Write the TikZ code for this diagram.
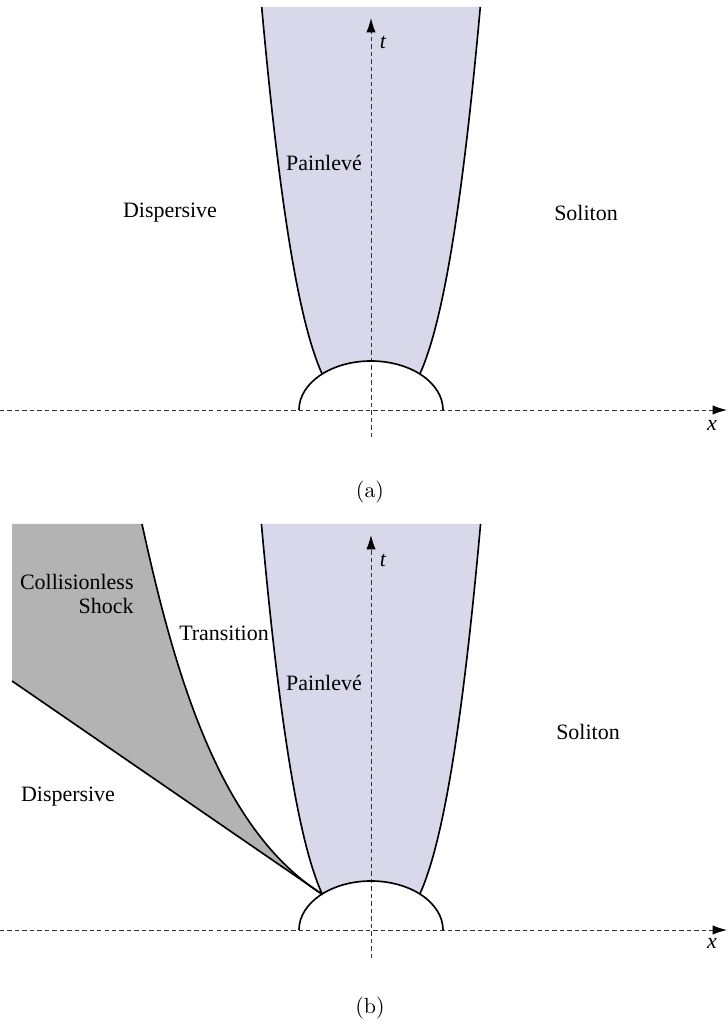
\documentclass[tikz,border=0pt]{standalone}
\usepackage{fontspec}
\newfontfamily\lblfont{Liberation Serif}
\usepackage{tikz}
\usetikzlibrary{arrows.meta}
\definecolor{lavender}{RGB}{216,216,234}
\definecolor{shockgray}{RGB}{179,179,179}

\begin{document}
\begin{tikzpicture}[x=0.016cm,y=0.016cm,
          axis/.style={black!80,line width=0.45pt,dash pattern=on 2pt off 1.4pt},
          axtip/.style={-{Latex[length=6.5pt,width=4.2pt,color=black]}},
          bdry/.style={line width=0.75pt},
          lbl/.style={font=\lblfont\fontsize{10}{11}\selectfont,inner sep=0pt},
          subcap/.style={font=\normalfont,inner sep=0pt}]
  \useasboundingbox (0,0) rectangle (728,1025);

  % (a) no shock
  \begin{scope}[shift={(371,615)}]
    \coordinate (meetLA) at (132.9:72 and 49);
    \coordinate (meetRA) at (47.1:72 and 49);
    \fill[lavender] (meetRA)
      -- plot[domain=35.9:403,variable=\t,samples=80] ({14.8*\t^(1/3)},{\t})
      -- plot[domain=403:35.9,variable=\t,samples=80] ({-14.8*\t^(1/3)},{\t})
      arc[start angle=132.9,end angle=47.1,x radius=72,y radius=49] -- cycle;
    \coordinate (xa0) at (-371,0);
    \coordinate (xa1) at (356,0);
    \coordinate (ta0) at (0,-27);
    \coordinate (ta1) at (0,392);
    \draw[axis,axtip] (xa0) -- (xa1);
    \draw[axis,axtip] (ta0) -- (ta1);
    \draw[bdry] plot[domain=35.9:403,variable=\t,samples=80] ({14.8*\t^(1/3)},{\t});
    \draw[bdry] plot[domain=35.9:403,variable=\t,samples=80] ({-14.8*\t^(1/3)},{\t});
    \draw[bdry] (72,0) arc[start angle=0,end angle=180,x radius=72,y radius=49];
    \node[lbl] (tlblA) at (12,368) {\itshape t};
    \node[lbl] (xlblA) at (341,-15) {\itshape x};
    \node[lbl] (painA) at (-47,247) {Painlevé};
    \node[lbl] (dispA) at (-201,197) {Dispersive};
    \node[lbl] (solA) at (215,197) {Soliton};
  \end{scope}
  \node[subcap] (capA) at (370,533) {(a)};

  % (b) with collisionless shock
  \begin{scope}[shift={(371,95)}]
    \coordinate (meetLB) at (132.9:72 and 49);
    \coordinate (meetRB) at (47.1:72 and 49);
    \coordinate (edgeB) at (-359,249);
    \coordinate (topB) at (-229,406);
    \fill[lavender] (meetRB)
      -- plot[domain=35.9:406,variable=\t,samples=80] ({14.8*\t^(1/3)},{\t})
      -- plot[domain=406:35.9,variable=\t,samples=80] ({-14.8*\t^(1/3)},{\t})
      arc[start angle=132.9,end angle=47.1,x radius=72,y radius=49] -- cycle;
    \fill[shockgray] (meetLB) -- (edgeB) -- (-359,406) -- (topB)
      .. controls (-195,250) and (-150,100) .. (meetLB) -- cycle;
    \coordinate (xb0) at (-371,0);
    \coordinate (xb1) at (356,0);
    \coordinate (tb0) at (0,-28);
    \coordinate (tb1) at (0,395);
    \draw[axis,axtip] (xb0) -- (xb1);
    \draw[axis,axtip] (tb0) -- (tb1);
    \draw[bdry] plot[domain=35.9:406,variable=\t,samples=80] ({14.8*\t^(1/3)},{\t});
    \draw[bdry] plot[domain=35.9:406,variable=\t,samples=80] ({-14.8*\t^(1/3)},{\t});
    \draw[bdry] (72,0) arc[start angle=0,end angle=180,x radius=72,y radius=49];
    \draw[bdry] (meetLB) -- (edgeB);
    \draw[bdry] (meetLB) .. controls (-150,100) and (-195,250) .. (topB);
    \node[lbl] (tlblB) at (12,370) {\itshape t};
    \node[lbl] (xlblB) at (341,-13) {\itshape x};
    \node[lbl] (painB) at (-47,247) {Painlevé};
    \node[lbl] (transB) at (-147,297) {Transition};
    \node[lbl,align=right,anchor=east] (shockB) at (-237,336) {Collisionless\\Shock};
    \node[lbl] (dispB) at (-303,133) {Dispersive};
    \node[lbl] (solB) at (217,198) {Soliton};
  \end{scope}
  \node[subcap] (capB) at (370,17) {(b)};
\end{tikzpicture}
\end{document}
